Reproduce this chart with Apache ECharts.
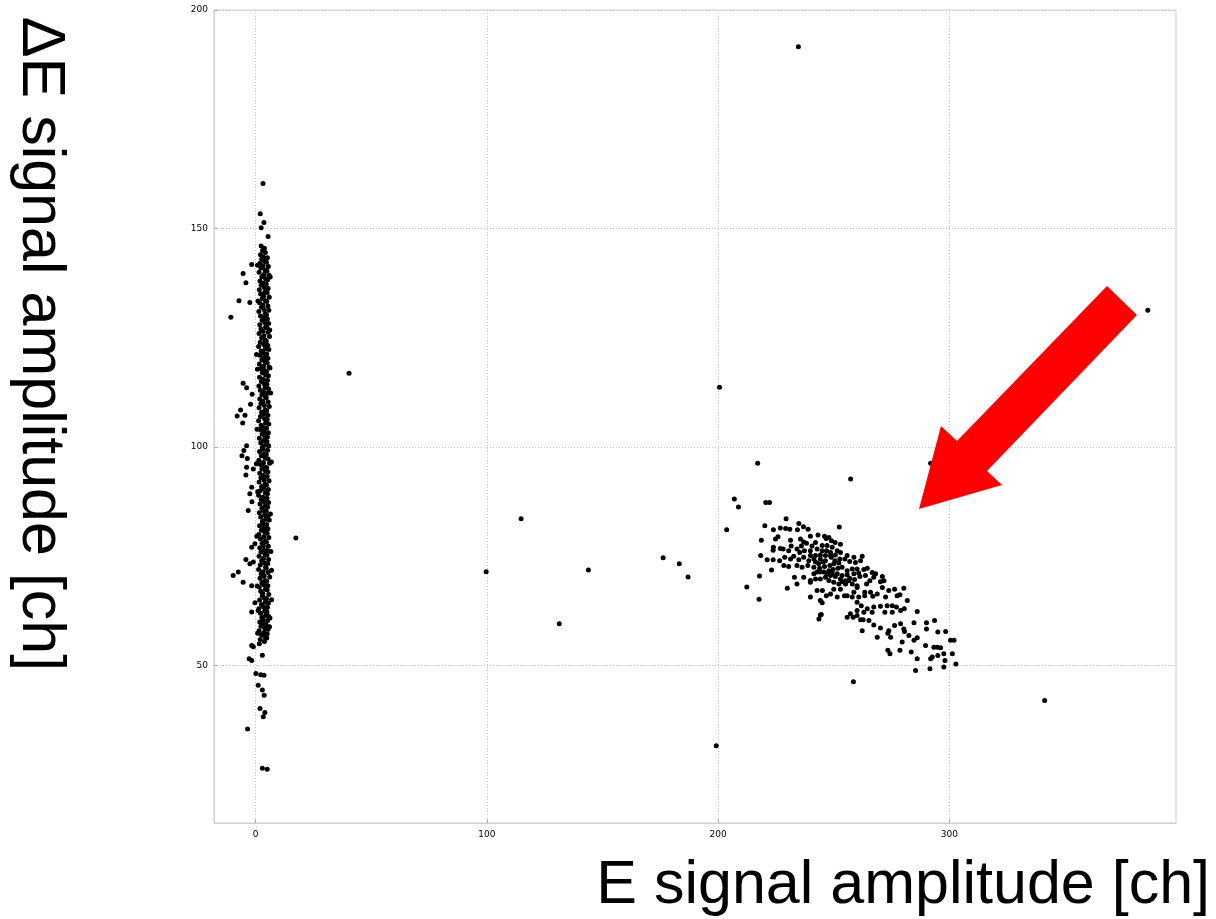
<!DOCTYPE html>
<html>
<head>
<meta charset="utf-8">
<script src="https://cdn.jsdelivr.net/npm/echarts@6/dist/echarts.min.js"></script>
<style>html,body{margin:0;padding:0;background:#fff}#chart{width:1216px;height:919px}</style>
</head>
<body>
<div id="chart"></div>
<script>
// ---- data (E [ch], ΔE [ch]) ----
var xTicks = [0, 100, 200, 300];
var yTicks = [50, 100, 150, 200];
var xTitle = 'E signal amplitude [ch]';
var yTitle = 'ΔE signal amplitude [ch]';

var bandColA = [[2.4,146],[3.0,145],[2.1,144],[2.6,143],[1.8,142],[2.3,141],[1.5,140],[2.7,139],[1.9,138],[2.4,137],[1.6,136],[2.2,135],[2.9,134],[1.7,133],[2.5,132],[1.4,131],[2.1,130],[2.8,129],[1.8,128],[2.3,127],[1.5,126],[2.6,125],[2.0,124],[1.3,123],[2.4,122],[1.9,121],[2.7,120],[1.6,119],[2.2,118],[2.9,117],[1.7,116],[2.5,115],[1.4,114],[2.0,113],[2.7,112],[1.8,111],[2.3,110],[1.5,109],[2.6,108],[2.1,107],[1.3,106],[2.4,105],[1.9,104],[2.8,103],[1.6,102],[2.2,101],[2.9,100],[1.7,99],[2.5,98],[1.4,97],[2.1,96],[2.7,95],[1.8,94],[2.3,93],[1.5,92],[2.6,91],[2.0,90],[1.3,89],[2.4,88],[1.9,87],[2.7,86],[1.6,85],[2.2,84],[2.9,83],[1.7,82],[2.5,81],[1.4,80],[2.1,79],[2.8,78],[1.8,77],[2.3,76],[1.5,75],[2.6,74],[2.0,73],[1.3,72],[2.4,71],[1.9,70],[2.7,69],[1.6,68],[2.2,67],[2.9,66],[1.7,65],[2.5,64],[1.4,63],[2.1,62],[2.7,61],[1.8,60],[2.3,59],[1.5,58],[2.6,57],[2.0,56],[1.6,55]];
var bandColB = [[3.8,145.5],[4.2,144.5],[3.4,143.5],[3.9,142.5],[3.2,141.5],[4.1,140.5],[3.6,139.5],[4.3,138.5],[3.3,137.5],[3.8,136.5],[4.0,135.5],[3.5,134.5],[4.2,133.5],[3.1,132.5],[3.7,131.5],[4.1,130.5],[3.4,129.5],[3.9,128.5],[4.3,127.5],[3.2,126.5],[3.6,125.5],[4.0,124.5],[3.5,123.5],[4.2,122.5],[3.3,121.5],[3.8,120.5],[4.1,119.5],[3.4,118.5],[3.9,117.5],[4.3,116.5],[3.2,115.5],[3.7,114.5],[4.0,113.5],[3.5,112.5],[4.2,111.5],[3.1,110.5],[3.8,109.5],[4.1,108.5],[3.4,107.5],[3.9,106.5],[4.3,105.5],[3.3,104.5],[3.6,103.5],[4.0,102.5],[3.5,101.5],[4.2,100.5],[3.2,99.5],[3.8,98.5],[4.1,97.5],[3.4,96.5],[3.9,95.5],[4.3,94.5],[3.3,93.5],[3.7,92.5],[4.0,91.5],[3.5,90.5],[4.2,89.5],[3.1,88.5],[3.8,87.5],[4.1,86.5],[3.4,85.5],[3.9,84.5],[4.3,83.5],[3.2,82.5],[3.6,81.5],[4.0,80.5],[3.5,79.5],[4.2,78.5],[3.3,77.5],[3.8,76.5],[4.1,75.5],[3.4,74.5],[3.9,73.5],[4.3,72.5],[3.2,71.5],[3.7,70.5],[4.0,69.5],[3.5,68.5],[4.2,67.5],[3.1,66.5],[3.8,65.5],[4.1,64.5],[3.4,63.5],[3.9,62.5],[4.3,61.5],[3.3,60.5],[3.6,59.5],[4.0,58.5],[3.5,57.5],[4.2,56.5],[3.8,55.5]];
var bandColC = [[5.1,143.3],[4.7,142.3],[5.5,141.3],[4.9,140.3],[5.8,139.3],[5.2,138.3],[4.6,137.3],[5.4,136.3],[5.0,135.3],[5.9,134.3],[4.8,133.3],[5.3,132.3],[5.7,131.3],[4.7,130.3],[5.1,129.3],[5.6,128.3],[4.9,127.3],[5.4,126.3],[6.0,125.3],[4.6,124.3],[5.2,123.3],[5.7,122.3],[4.8,121.3],[5.3,120.3],[5.0,119.3],[5.8,118.3],[4.7,117.3],[5.5,116.3],[5.1,115.3],[4.9,114.3],[5.6,113.3],[5.2,112.3],[4.6,111.3],[5.4,110.3],[5.9,109.3],[4.8,108.3],[5.3,107.3],[5.0,106.3],[5.7,105.3],[4.7,104.3],[5.5,103.3],[5.1,102.3],[4.9,101.3],[5.6,100.3],[5.2,99.3],[4.6,98.3],[5.4,97.3],[6.0,96.3],[4.8,95.3],[5.3,94.3],[5.0,93.3],[5.8,92.3],[4.7,91.3],[5.5,90.3],[5.1,89.3],[4.9,88.3],[5.6,87.3],[5.2,86.3],[4.6,85.3],[5.4,84.3],[5.9,83.3],[4.8,82.3],[5.3,81.3],[5.0,80.3],[5.7,79.3],[4.7,78.3],[5.5,77.3],[5.1,76.3],[4.9,75.3],[5.6,74.3],[5.2,73.3],[4.6,72.3],[5.4,71.3],[6.1,70.3],[4.8,69.3],[5.3,68.3],[5.0,67.3],[5.7,66.3],[4.7,65.3],[5.5,64.3],[5.1,63.3],[4.9,62.3],[5.6,61.3],[5.2,60.3],[4.6,59.3],[5.4,58.3],[5.0,57.3],[4.8,56.3]];
var bandEdge = [[0.4,121.2],[0.8,117.8],[6.5,112.4],[0.6,104.1],[6.8,96.6],[0.9,89.8],[6.4,84.7],[0.5,79.6],[6.6,76.1],[0.7,68.2],[6.9,71.8],[1.0,133.4],[6.3,138.9],[0.8,141.6],[6.1,126.8],[0.3,96.2],[6.2,118.1],[1.1,62.6],[6.0,58.9],[0.9,57.4],[6.9,65.1],[6.2,60.9]];
var bandTop = [[3.2,160.3],[2.0,153.4],[3.6,151.4],[2.4,150.2],[5.4,148.2],[-1.7,141.8]];
var bandLeft = [[-5.4,139.7],[-4.2,137.6],[-7.2,133.5],[-10.7,129.7],[-2.5,133.1],[-5.4,114.6],[-3.9,113.6],[-1.5,112.1],[-6.5,108.5],[-8.0,107.1],[-4.6,107.3],[-5.6,105.5],[-2.2,109.8],[-3.9,100.3],[-5.1,99.2],[-5.9,98.0],[-3.6,97.4],[-3.9,95.4],[-4.2,93.6],[-1.0,95.0],[-1.7,90.8],[-2.5,89.3],[-1.6,87.5],[-3.2,85.5],[-1.7,77.1],[-0.3,77.9],[-4.2,74.3],[-2.5,73.3],[-1.0,73.7],[-9.7,70.6],[-7.5,71.4],[-5.4,69.1],[-1.7,68.3],[-0.3,64.4],[-1.7,62.3]];
var bandBottom = [[-1.0,54.3],[-1.7,54.6],[-2.8,51.6],[-1.7,51.2],[2.9,52.4],[0.1,48.2],[2.2,47.9],[3.6,47.8],[1.1,45.5],[2.9,44.4],[3.7,43.2],[1.9,40.2],[4.0,39.3],[3.3,38.3],[-3.5,35.5],[2.9,26.5],[5.0,26.3]];
var isolated = [[234.7,191.6],[40.4,116.9],[200.6,113.7],[17.4,79.2],[114.8,83.6],[99.7,71.5],[131.3,59.6],[143.9,71.9],[176.2,74.7],[183.2,73.3],[187.0,70.3],[199.2,31.7],[258.5,46.3],[341.2,42.0],[257.3,92.7],[217.1,96.3],[385.8,131.3],[291.9,96.3]];
var clusterEdge = [[207.0,88.1],[208.8,86.3],[220.6,87.3],[222.2,87.3],[203.7,81.1],[229.4,83.6],[220.2,82.0],[252.4,81.7],[218.7,78.7],[218.4,75.2],[217.9,70.5],[223.1,71.9],[212.4,68.0],[217.7,65.2],[229.9,67.7],[244.6,61.7],[243.6,60.7]];
var clusterCore = [[223.9,81.1],[226.9,81.5],[229.2,81.4],[231.0,81.2],[234.3,81.1],[234.9,82.5],[236.9,81.8],[238.9,81.2],
[225.9,79.5],[224.8,79.0],[231.3,78.7],[231.6,77.4],[235.6,79.0],[237.0,78.3],[238.2,78.0],[239.9,79.6],[243.2,79.9],[246.0,79.6],[246.7,79.1],[247.9,79.3],[249.0,78.6],[250.6,78.2],[252.9,77.8],[242.1,78.2],[240.6,77.4],[236.0,77.4],
[223.9,77.1],[226.9,76.8],[228.1,76.7],[223.8,76.4],[230.5,76.3],[234.1,76.7],[235.3,75.9],[237.3,76.3],[239.9,76.3],[242.8,76.7],[245.0,76.3],[246.9,76.3],[248.6,75.9],[251.5,76.3],[252.9,75.9],[255.8,75.2],[258.7,74.8],[262.3,75.0],
[221.2,74.2],[223.8,74.2],[226.6,74.0],[228.8,74.8],[231.3,74.4],[232.7,75.0],[234.9,74.2],[237.0,74.8],[239.2,74.0],[241.4,74.4],[244.2,74.4],[246.4,74.0],[248.9,74.8],[250.5,74.0],[252.6,74.4],[254.8,74.4],[256.9,73.8],[259.4,73.6],[261.6,74.0],
[228.4,72.9],[230.5,72.7],[234.1,72.9],[236.3,72.5],[238.8,72.9],[241.4,72.5],[243.9,72.3],[246.0,72.7],[247.9,71.7],[249.7,72.0],[251.8,72.3],[253.6,72.5],[255.8,71.7],[258.0,72.1],[260.1,72.1],[263.0,72.0],[264.5,72.3],[266.6,71.3],[268.1,71.0],
[233.0,70.2],[237.0,70.2],[239.9,69.5],[242.1,69.8],[244.2,69.8],[246.4,70.2],[248.6,70.6],[250.7,70.4],[252.9,69.8],[255.1,69.4],[256.9,70.0],[259.0,69.7],[261.3,70.4],[263.7,70.6],[265.6,69.4],[267.3,70.2],[271.0,70.4],[234.1,68.7],[239.9,69.1],[255.1,68.7],[258.0,68.7],[260.1,68.3],[264.2,68.7],[270.2,69.2],[271.7,69.4],
[242.8,67.2],[245.1,67.2],[248.6,66.4],[250.0,67.5],[252.9,67.5],[255.8,66.0],[258.7,66.8],[260.1,67.9],[263.4,66.8],[265.9,66.8],[268.8,66.4],[271.0,67.9],[273.8,67.2],[276.3,67.5],[278.6,66.2],[280.3,67.7],[239.9,65.7],[244.2,64.9],[246.8,66.0],[251.5,65.7],[254.6,66.0],[258.0,65.7],[260.8,65.7],[263.4,66.0],[266.9,65.9],[272.4,65.7],[277.4,66.0],[281.8,64.9],
[245.0,64.4],[260.1,64.5],[261.9,63.7],[264.5,63.0],[267.3,63.4],[270.2,63.6],[273.1,63.7],[275.3,63.7],[277.1,63.4],[278.9,62.6],[280.5,63.0],[260.1,62.6],[263.0,62.2],[257.2,61.9],[260.1,61.5],[266.6,62.2],[272.1,62.2],[275.3,62.2],[286.1,62.4],[255.8,61.1],[258.4,61.1],[261.6,60.5],[244.2,61.6],
[262.7,60.5],[265.2,60.3],[267.3,59.3],[270.2,58.6],[273.8,58.0],[276.3,59.2],[278.9,59.6],[280.3,58.4],[284.7,59.8],[290.1,59.8],[293.6,60.3],[262.3,58.0],[273.4,57.4],[268.8,56.5],[274.6,56.5],[280.6,57.8],[282.5,56.9],[286.1,56.4],[290.1,58.4],[295.0,57.7],[298.4,57.8],
[279.6,55.4],[284.7,55.8],[289.7,54.6],[293.3,54.2],[294.8,54.2],[296.2,54.1],[300.5,55.8],[302.0,55.8],[273.4,53.5],[274.3,52.7],[283.5,53.1],[278.6,53.5],[286.1,51.6],[291.9,51.6],[292.6,52.0],[295.0,52.3],[297.6,52.7],[298.1,51.2],[301.3,52.7],[302.8,50.4],[285.4,48.9],[291.6,49.3],[297.6,49.7],
[245.7,71.4],[247.1,71.0],[249.3,71.2],[251.5,71.0],[253.6,70.6],[255.8,70.8],[247.9,69.5],[250.0,69.1],[252.2,68.7],[253.6,69.2],[256.5,69.4],[244.2,71.4],[242.8,71.4],[241.4,71.0],[258.7,71.0],[260.8,71.2],[248.3,72.9],[250.0,73.3],[252.2,73.5],[245.4,73.7],[243.5,73.3],[242.1,73.7],[239.9,75.2],[242.1,75.2],[244.2,75.3],[246.4,75.2],[248.6,75.2],[250.7,75.3],[247.1,77.5],[249.3,77.1],[245.0,77.5]];

var allPoints = [].concat(bandColA, bandColB, bandColC, bandEdge, bandTop, bandLeft, bandBottom, isolated, clusterEdge, clusterCore);

var chart = echarts.init(document.getElementById('chart'), null, {renderer: 'canvas'});
var gridLine = {show: true, lineStyle: {color: '#c4c4c4', type: [1, 2], width: 1}};
chart.setOption({
  animation: false,
  backgroundColor: '#fff',
  grid: {left: 214, top: 10, width: 962, height: 813, show: true, borderColor: '#cfcfcf', borderWidth: 1, backgroundColor: 'transparent'},
  xAxis: {
    type: 'value', min: -18, max: 398,
    axisLine: {show: true, onZero: false, lineStyle: {color: '#cfcfcf'}},
    axisTick: {show: true, inside: true, length: 4, customValues: xTicks, lineStyle: {color: '#aaa'}},
    axisLabel: {customValues: xTicks, fontSize: 9, color: '#000', margin: 7, fontFamily: 'DejaVu Sans'},
    splitLine: gridLine
  },
  yAxis: {
    type: 'value', min: 14, max: 200,
    axisLine: {show: true, onZero: false, lineStyle: {color: '#cfcfcf'}},
    axisTick: {show: true, inside: true, length: 4, customValues: yTicks, lineStyle: {color: '#aaa'}},
    axisLabel: {customValues: yTicks, fontSize: 9, color: '#000', margin: 6, fontFamily: 'DejaVu Sans'},
    splitLine: gridLine
  },
  series: [{
    type: 'scatter', data: allPoints, symbol: 'circle', symbolSize: 5,
    itemStyle: {color: '#000', opacity: 1}, silent: true
  }],
  graphic: [
    {type: 'polygon', shape: {points: [[1107,286],[1137,315],[987,471],[1002,485],[919,509],[941,426],[957,441]]}, style: {fill: '#ff0000'}, z: 100},
    {type: 'text', right: 6, top: 856, style: {text: xTitle, fontSize: 61, fontFamily: 'Liberation Sans', fill: '#000'}, z: 100},
    {type: 'text', x: 40, y: 344, rotation: -Math.PI / 2, style: {text: yTitle, fontSize: 61, fontFamily: 'Liberation Sans', fill: '#000', align: 'center', verticalAlign: 'middle'}, z: 100}
  ]
});
</script>
</body>
</html>
